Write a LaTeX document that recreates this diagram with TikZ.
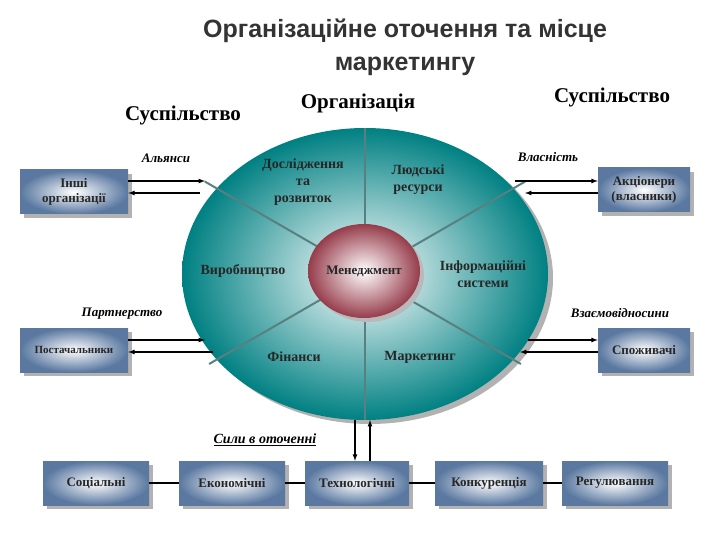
\documentclass[tikz,border=0pt]{standalone}
\usepackage{fontspec}
\setmainfont{Liberation Serif}
\newfontfamily\titlefont{Liberation Sans}
\usetikzlibrary{shadows}
\definecolor{teal1}{RGB}{0,128,130}
\definecolor{boxc}{RGB}{90,120,160}
\definecolor{maroon1}{RGB}{150,60,75}
\tikzset{
 box/.style={draw=none,minimum height=44pt,inner color=white,outer color=boxc,
   drop shadow={shadow xshift=4pt,shadow yshift=-4pt,fill=gray!60,opacity=1},font=\bfseries\fontsize{13}{15}\selectfont,align=center,text=black!85,inner sep=1pt},
 lbl/.style={font=\bfseries\fontsize{14}{17}\selectfont,align=center,text=black!85},
 ital/.style={font=\bfseries\itshape\fontsize{13}{15}\selectfont},
 arr/.style={->,>=latex,line width=1.2pt},
 spoke/.style={gray!70!teal1,line width=2pt}
}
\begin{document}
\begin{tikzpicture}[x=1pt,y=-1pt]
\useasboundingbox (0,0) rectangle (720,540);
\node[font=\titlefont\bfseries\fontsize{25}{33}\selectfont,align=center,text=black!80] (title) at (405,47) {Організаційне оточення та місце\\маркетингу};
\node[font=\fontsize{21}{24}\selectfont\bfseries] (s1) at (183,115) {Суспільство};
\node[font=\fontsize{21}{24}\selectfont\bfseries] (org) at (358,103) {Організація};
\node[font=\fontsize{21}{24}\selectfont\bfseries] (s2) at (612,97) {Суспільство};
% outer ellipse
\fill[gray!60] (370,278) ellipse (183 and 146);
\shade[inner color=white,outer color=teal1] (365,274) ellipse (183 and 146);
\coordinate (c) at (365,274);
\draw[spoke] (365,128) -- (365,420);
\draw[spoke] (c) -- ++(150:180);
\draw[spoke] (c) -- ++(30:180);
\draw[spoke] (c) -- ++(-30:185);
\draw[spoke] (c) -- ++(210:185);
\fill[gray!55] (368,275) ellipse (56 and 47);
\shade[inner color=white,outer color=maroon1] (364,271) ellipse (56 and 47);
\node[lbl,font=\bfseries\fontsize{13}{15}\selectfont] (men) at (364,271) {Менеджмент};
\node[lbl] (dr) at (303,182) {Дослідження\\та\\розвиток};
\node[lbl] (lr) at (418,180) {Людські\\ресурси};
\node[lbl] (vyr) at (243,271) {Виробництво};
\node[lbl] (inf) at (483,274) {Інформаційні\\системи};
\node[lbl] (fin) at (294,357) {Фінанси};
\node[lbl] (mar) at (420,357) {Маркетинг};
% side boxes
\node[box,minimum width=108pt] (io) at (74,192) {Інші\\організації};
\node[box,minimum width=92pt] (ak) at (644,190) {Акціонери\\(власники)};
\node[box,minimum width=108pt,font=\bfseries\fontsize{11}{13}\selectfont] (pos) at (74,350) {Постачальники};
\node[box,minimum width=92pt] (sp) at (644,350) {Споживачі};
\node[ital] (al) at (166,158) {Альянси};
\node[ital] (vl) at (548,157) {Власність};
\node[ital] (pa) at (122,314) {Партнерство};
\node[ital] (vz) at (620,313) {Взаємовідносини};
\coordinate (a1) at (205,181); \coordinate (a2) at (200,193);
\draw[arr] (io.east |- a1) -- (a1);
\draw[arr] (a2) -- (io.east |- a2);
\coordinate (b1) at (515,181); \coordinate (b2) at (525,193);
\draw[arr] (b1) -- (ak.west |- b1);
\draw[arr] (ak.west |- b2) -- (b2);
\coordinate (p1) at (205,340); \coordinate (p2) at (213,352);
\draw[arr] (pos.east |- p1) -- (p1);
\draw[arr] (p2) -- (pos.east |- p2);
\coordinate (q1) at (528,340); \coordinate (q2) at (520,352);
\draw[arr] (q1) -- (sp.west |- q1);
\draw[arr] (sp.west |- q2) -- (q2);
% bottom
\node[ital,font=\bfseries\itshape\fontsize{14}{16}\selectfont] (sil) at (265,440) {\underline{Сили в оточенні}};
\node[box,minimum width=106pt] (b1n) at (96,483) {Соціальні};
\node[box,minimum width=106pt] (b2n) at (232,483) {Економічні};
\node[box,minimum width=104pt] (b3n) at (357,483) {Технологічні};
\node[box,minimum width=108pt] (b4n) at (489,483) {Конкуренція};
\node[box,minimum width=106pt] (b5n) at (615,483) {Регулювання};
\draw[line width=1.5pt] (b1n) -- (b2n);
\draw[line width=1.5pt] (b2n) -- (b3n);
\draw[line width=1.5pt] (b3n) -- (b4n);
\draw[line width=1.5pt] (b4n) -- (b5n);
\coordinate (v1) at (355,420); \coordinate (v2) at (370,420);
\draw[arr] (v1) -- (v1 |- b3n.north);
\draw[arr] (v2 |- b3n.north) -- (v2);
\end{tikzpicture}
\end{document}
